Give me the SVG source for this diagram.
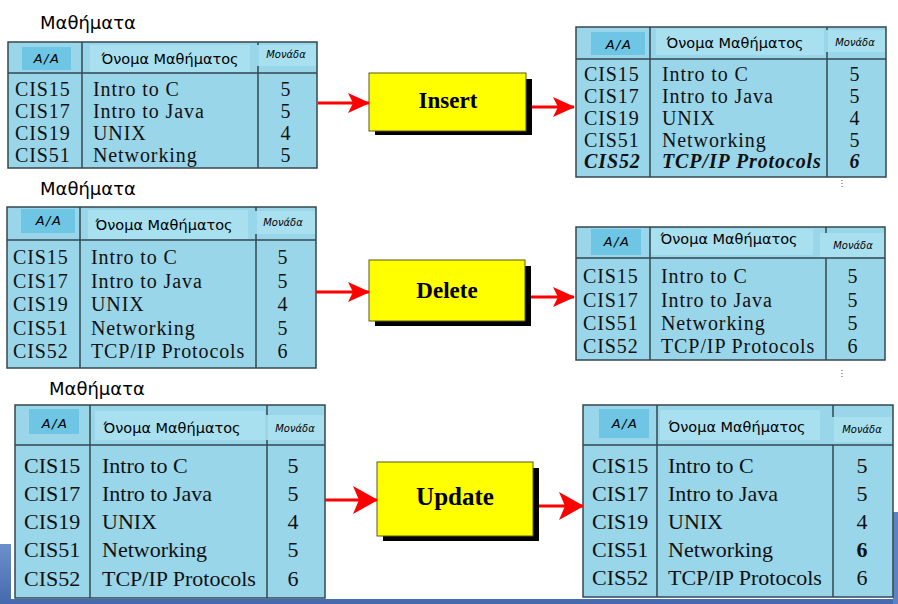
<svg xmlns="http://www.w3.org/2000/svg" width="898" height="604" viewBox="0 0 898 604">
<style>
.tbl{fill:#99d6ea;stroke:#34474f;stroke-width:1.5}
.ln{stroke:#34474f;stroke-width:1.5;fill:none}
.aa{fill:#6ec5e4}
.hb{fill:#a8e0f0}
.lab{font-family:"DejaVu Sans",sans-serif;font-size:18px;fill:#000}
.ha{font-family:"DejaVu Sans",sans-serif;font-style:italic;font-size:13px;letter-spacing:1.5px;fill:#000;text-anchor:middle}
.hn{font-family:"DejaVu Sans",sans-serif;font-size:14.5px;fill:#000;text-anchor:middle}
.hm{font-family:"DejaVu Sans",sans-serif;font-style:italic;font-size:10px;fill:#000;text-anchor:middle}
.r1{font-family:"Liberation Serif",serif;font-size:20px;letter-spacing:0.9px;fill:#111}
.r2{font-family:"Liberation Serif",serif;font-size:22px;fill:#111}
.mid{text-anchor:middle}
.bi{font-weight:bold;font-style:italic}
.b{font-weight:bold}
.box{fill:#ffff00;stroke:#5a5a10;stroke-width:1}
.sh{fill:#000}
.op{font-family:"Liberation Serif",serif;font-weight:bold;fill:#000;text-anchor:middle}
.ar{stroke:#ff0000;stroke-width:3;fill:none}
.dots{stroke:#555;stroke-width:1;stroke-dasharray:1 2}
</style>
<defs>
<linearGradient id="bar" x1="0" y1="0" x2="0" y2="1">
<stop offset="0" stop-color="#6d90cc"/>
<stop offset="1" stop-color="#4469ad"/>
</linearGradient>
<marker id="ah" markerUnits="userSpaceOnUse" viewBox="0 0 22 20" markerWidth="22" markerHeight="20" refX="21" refY="10" orient="auto">
<path d="M0,0 L22,10 L0,20 L5,10 Z" fill="#ff0000"/>
</marker>
<marker id="ahL" markerUnits="userSpaceOnUse" viewBox="0 0 25 28" markerWidth="25" markerHeight="28" refX="24" refY="14" orient="auto">
<path d="M0,0 L25,14 L0,28 L6,14 Z" fill="#ff0000"/>
</marker>
</defs>
<rect x="0" y="0" width="898" height="604" fill="#ffffff"/>
<rect x="0" y="544" width="898" height="60" fill="url(#bar)"/>
<rect x="893" y="512" width="5" height="92" fill="#5f82c2"/>
<rect x="11" y="0" width="882" height="599" fill="#ffffff"/>

<!-- Table 1 -->
<g id="table-before-insert">
<text class="lab" x="40" y="29">Μαθήματα</text>
<rect class="tbl" x="8" y="42" width="309" height="126"/>
<rect class="aa" x="22" y="47" width="49" height="23"/>
<rect class="hb" x="90" y="45" width="160" height="27"/>
<rect class="hb" x="259" y="45" width="57" height="21"/>
<line class="ln" x1="8" y1="73" x2="317" y2="73"/>
<line class="ln" x1="82" y1="42" x2="82" y2="168"/>
<line class="ln" x1="258" y1="42" x2="258" y2="45"/>
<line class="ln" x1="258" y1="66" x2="258" y2="168"/>
<text class="ha" x="47" y="63">A/A</text>
<text class="hn" x="170" y="64">Όνομα Μαθήματος</text>
<text class="hm" x="286" y="58">Μονάδα</text>
<text class="r1" x="15" y="96">CIS15</text><text class="r1" x="93" y="96">Intro to C</text><text class="r1 mid" x="286" y="96">5</text>
<text class="r1" x="15" y="118">CIS17</text><text class="r1" x="93" y="118">Intro to Java</text><text class="r1 mid" x="286" y="118">5</text>
<text class="r1" x="15" y="140">CIS19</text><text class="r1" x="93" y="140">UNIX</text><text class="r1 mid" x="286" y="140">4</text>
<text class="r1" x="15" y="162">CIS51</text><text class="r1" x="93" y="162">Networking</text><text class="r1 mid" x="286" y="162">5</text>
</g>

<!-- Insert -->
<g id="insert">
<rect class="sh" x="375" y="79" width="157" height="56"/>
<rect class="box" x="369" y="73" width="157" height="58"/>
<text class="op" x="448" y="108" font-size="23">Insert</text>
</g>

<!-- Table 2 -->
<g id="table-after-insert">
<rect class="tbl" x="576" y="27" width="310" height="150"/>
<rect class="aa" x="591" y="32" width="54" height="23"/>
<rect class="hb" x="656" y="29" width="168" height="26"/>
<rect class="hb" x="828" y="30" width="57" height="22"/>
<line class="ln" x1="576" y1="59" x2="886" y2="59"/>
<line class="ln" x1="650" y1="27" x2="650" y2="177"/>
<line class="ln" x1="827" y1="27" x2="827" y2="30"/>
<line class="ln" x1="827" y1="52" x2="827" y2="177"/>
<text class="ha" x="619" y="49">A/A</text>
<text class="hn" x="735" y="48">Όνομα Μαθήματος</text>
<text class="hm" x="855" y="46">Μονάδα</text>
<text class="r1" x="584" y="81">CIS15</text><text class="r1" x="662" y="81">Intro to C</text><text class="r1 mid" x="855" y="81">5</text>
<text class="r1" x="584" y="103">CIS17</text><text class="r1" x="662" y="103">Intro to Java</text><text class="r1 mid" x="855" y="103">5</text>
<text class="r1" x="584" y="125">CIS19</text><text class="r1" x="662" y="125">UNIX</text><text class="r1 mid" x="855" y="125">4</text>
<text class="r1" x="584" y="147">CIS51</text><text class="r1" x="662" y="147">Networking</text><text class="r1 mid" x="855" y="147">5</text>
<text class="r1 bi" x="584" y="168">CIS52</text><text class="r1 bi" x="662" y="168">TCP/IP Protocols</text><text class="r1 bi mid" x="855" y="168">6</text>
<line class="dots" x1="842" y1="180" x2="842" y2="189"/>
</g>

<!-- Table 3 -->
<g id="table-before-delete">
<text class="lab" x="40" y="195">Μαθήματα</text>
<rect class="tbl" x="7" y="207" width="309" height="161"/>
<rect class="aa" x="21" y="209" width="54" height="24"/>
<rect class="hb" x="88" y="210" width="160" height="29"/>
<rect class="hb" x="257" y="211" width="58" height="23"/>
<line class="ln" x1="7" y1="240" x2="316" y2="240"/>
<line class="ln" x1="80" y1="207" x2="80" y2="368"/>
<line class="ln" x1="256" y1="207" x2="256" y2="211"/>
<line class="ln" x1="256" y1="234" x2="256" y2="368"/>
<text class="ha" x="49" y="225">A/A</text>
<text class="hn" x="164" y="230">Όνομα Μαθήματος</text>
<text class="hm" x="283" y="226">Μονάδα</text>
<text class="r1" x="13" y="264">CIS15</text><text class="r1" x="91" y="264">Intro to C</text><text class="r1 mid" x="283" y="264">5</text>
<text class="r1" x="13" y="288">CIS17</text><text class="r1" x="91" y="288">Intro to Java</text><text class="r1 mid" x="283" y="288">5</text>
<text class="r1" x="13" y="311">CIS19</text><text class="r1" x="91" y="311">UNIX</text><text class="r1 mid" x="283" y="311">4</text>
<text class="r1" x="13" y="335">CIS51</text><text class="r1" x="91" y="335">Networking</text><text class="r1 mid" x="283" y="335">5</text>
<text class="r1" x="13" y="358">CIS52</text><text class="r1" x="91" y="358">TCP/IP Protocols</text><text class="r1 mid" x="283" y="358">6</text>
</g>

<!-- Delete -->
<g id="delete">
<rect class="sh" x="375" y="266" width="156" height="60"/>
<rect class="box" x="369" y="260" width="156" height="61"/>
<text class="op" x="447" y="298" font-size="23">Delete</text>
</g>

<!-- Table 4 -->
<g id="table-after-delete">
<rect class="tbl" x="576" y="227" width="309" height="133"/>
<rect class="aa" x="591" y="229" width="50" height="26"/>
<rect class="hb" x="651" y="229" width="162" height="26"/>
<rect class="hb" x="820" y="233" width="64" height="24"/>
<line class="ln" x1="576" y1="258" x2="885" y2="258"/>
<line class="ln" x1="650" y1="227" x2="650" y2="360"/>
<line class="ln" x1="826" y1="227" x2="826" y2="233"/>
<line class="ln" x1="826" y1="258" x2="826" y2="360"/>
<text class="ha" x="617" y="246">A/A</text>
<text class="hn" x="729" y="244">Όνομα Μαθήματος</text>
<text class="hm" x="853" y="249">Μονάδα</text>
<text class="r1" x="583" y="283">CIS15</text><text class="r1" x="661" y="283">Intro to C</text><text class="r1 mid" x="853" y="283">5</text>
<text class="r1" x="583" y="307">CIS17</text><text class="r1" x="661" y="307">Intro to Java</text><text class="r1 mid" x="853" y="307">5</text>
<text class="r1" x="583" y="330">CIS51</text><text class="r1" x="661" y="330">Networking</text><text class="r1 mid" x="853" y="330">5</text>
<text class="r1" x="583" y="353">CIS52</text><text class="r1" x="661" y="353">TCP/IP Protocols</text><text class="r1 mid" x="853" y="353">6</text>
<line class="dots" x1="842" y1="370" x2="842" y2="378"/>
</g>

<!-- Table 5 -->
<g id="table-before-update">
<text class="lab" x="49" y="395">Μαθήματα</text>
<rect class="tbl" x="15" y="405" width="310" height="193"/>
<rect class="aa" x="29" y="409" width="50" height="25"/>
<rect class="hb" x="95" y="411" width="170" height="29"/>
<rect class="hb" x="268" y="415" width="56" height="25"/>
<line class="ln" x1="15" y1="445" x2="325" y2="445"/>
<line class="ln" x1="90" y1="405" x2="90" y2="598"/>
<line class="ln" x1="267" y1="405" x2="267" y2="415"/>
<line class="ln" x1="267" y1="440" x2="267" y2="598"/>
<text class="ha" x="55" y="428">A/A</text>
<text class="hn" x="172" y="433">Όνομα Μαθήματος</text>
<text class="hm" x="295" y="432">Μονάδα</text>
<text class="r2" x="24" y="473">CIS15</text><text class="r2" x="102" y="473">Intro to C</text><text class="r2 mid" x="293" y="473">5</text>
<text class="r2" x="24" y="501">CIS17</text><text class="r2" x="102" y="501">Intro to Java</text><text class="r2 mid" x="293" y="501">5</text>
<text class="r2" x="24" y="529">CIS19</text><text class="r2" x="102" y="529">UNIX</text><text class="r2 mid" x="293" y="529">4</text>
<text class="r2" x="24" y="557">CIS51</text><text class="r2" x="102" y="557">Networking</text><text class="r2 mid" x="293" y="557">5</text>
<text class="r2" x="24" y="586">CIS52</text><text class="r2" x="102" y="586">TCP/IP Protocols</text><text class="r2 mid" x="293" y="586">6</text>
</g>

<!-- Update -->
<g id="update">
<rect class="sh" x="383" y="468" width="156" height="73"/>
<rect class="box" x="377" y="462" width="156" height="74"/>
<text class="op" x="455" y="505" font-size="25">Update</text>
</g>

<!-- Table 6 -->
<g id="table-after-update">
<rect class="tbl" x="583" y="405" width="310" height="192"/>
<rect class="aa" x="599" y="409" width="50" height="29"/>
<rect class="hb" x="660" y="410" width="160" height="30"/>
<rect class="hb" x="834" y="417" width="58" height="25"/>
<line class="ln" x1="583" y1="445" x2="893" y2="445"/>
<line class="ln" x1="657" y1="405" x2="657" y2="597"/>
<line class="ln" x1="833" y1="405" x2="833" y2="417"/>
<line class="ln" x1="833" y1="445" x2="833" y2="597"/>
<text class="ha" x="625" y="428">A/A</text>
<text class="hn" x="737" y="432">Όνομα Μαθήματος</text>
<text class="hm" x="862" y="433">Μονάδα</text>
<text class="r2" x="592" y="473">CIS15</text><text class="r2" x="668" y="473">Intro to C</text><text class="r2 mid" x="862" y="473">5</text>
<text class="r2" x="592" y="501">CIS17</text><text class="r2" x="668" y="501">Intro to Java</text><text class="r2 mid" x="862" y="501">5</text>
<text class="r2" x="592" y="529">CIS19</text><text class="r2" x="668" y="529">UNIX</text><text class="r2 mid" x="862" y="529">4</text>
<text class="r2" x="592" y="557">CIS51</text><text class="r2" x="668" y="557">Networking</text><text class="r2 mid b" x="862" y="557">6</text>
<text class="r2" x="592" y="585">CIS52</text><text class="r2" x="668" y="585">TCP/IP Protocols</text><text class="r2 mid" x="862" y="585">6</text>
</g>

<!-- Connectors -->
<g id="connectors">
<line class="ar" x1="318" y1="103" x2="369" y2="103" marker-end="url(#ah)"/>
<line class="ar" x1="532" y1="107" x2="574" y2="107" marker-end="url(#ah)"/>
<line class="ar" x1="316" y1="292" x2="369" y2="292" marker-end="url(#ah)"/>
<line class="ar" x1="531" y1="297" x2="574" y2="297" marker-end="url(#ah)"/>
<line class="ar" x1="325" y1="500" x2="377" y2="500" marker-end="url(#ahL)"/>
<line class="ar" x1="539" y1="506" x2="583" y2="506" marker-end="url(#ahL)"/>
</g>
</svg>
